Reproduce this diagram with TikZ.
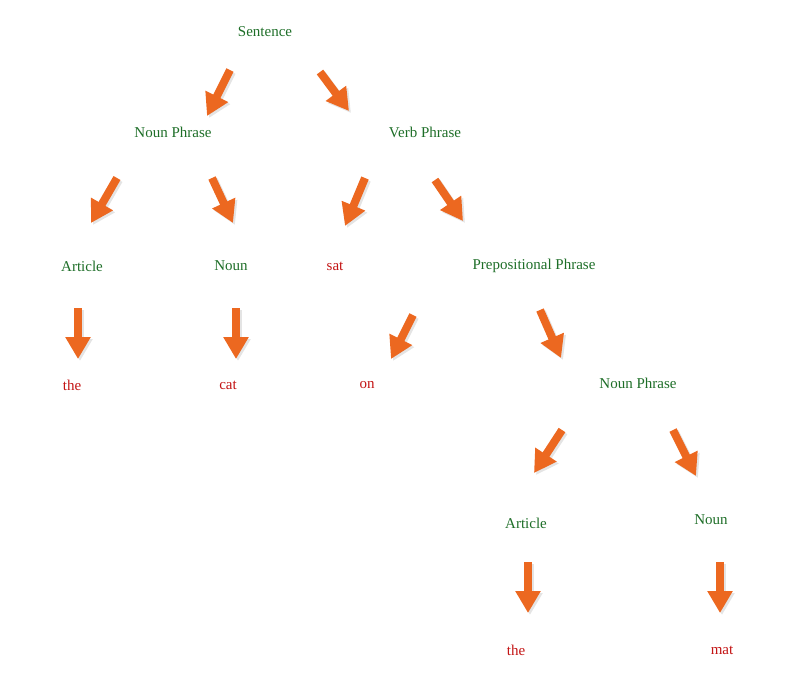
\documentclass[tikz,border=0pt]{standalone}
\usepackage{fontspec}
\setmainfont{Liberation Serif}
\usetikzlibrary{arrows.meta}
\definecolor{tg}{RGB}{30,110,40}
\definecolor{tr}{RGB}{195,20,20}
\definecolor{ao}{RGB}{236,104,32}
\tikzset{
 g/.style={text=tg,font=\fontsize{15}{18}\selectfont},
 r/.style={text=tr,font=\fontsize{15}{18}\selectfont},
 barrow/.style={draw=ao,line width=8pt,-{Triangle[width=24pt,length=22pt]}},
 shad/.style={draw=black!30,opacity=0.35,line width=8pt,-{Triangle[width=24pt,length=22pt]}}
}
\newcommand{\barr}[2]{\draw[shad] ($(#1)+(2,2)$) -- ($(#2)+(2,2)$); \draw[barrow] (#1) -- (#2);}
\usetikzlibrary{calc}
\begin{document}
\begin{tikzpicture}[x=1pt,y=-1pt]
\useasboundingbox (0,0) rectangle (792,673);
\node[g] (s) at (265,32) {Sentence};
\node[g] (np1) at (173,132) {Noun Phrase};
\node[g] (vp) at (425,132) {Verb Phrase};
\node[g] (a1) at (82,266) {Article};
\node[g] (n1) at (231,266) {Noun};
\node[r] (sat) at (335,266) {sat};
\node[g] (pp) at (534,266) {Prepositional Phrase};
\node[r] (the1) at (72,385) {the};
\node[r] (cat) at (228,385) {cat};
\node[r] (on) at (367,385) {on};
\node[g] (np2) at (638,383) {Noun Phrase};
\node[g] (a2) at (526,523) {Article};
\node[g] (n2) at (711,520) {Noun};
\node[r] (the2) at (516,650) {the};
\node[r] (mat) at (722,650) {mat};
\barr{230,70}{207,116}
\barr{320,72}{349,111}
\barr{117,178}{91,223}
\barr{212,178}{233,223}
\barr{365,178}{345,226}
\barr{435,180}{463,221}
\barr{78,308}{78,359}
\barr{236,308}{236,359}
\barr{413,315}{391,359}
\barr{540,310}{561,358}
\barr{562,430}{534,473}
\barr{673,430}{696,476}
\barr{528,562}{528,613}
\barr{720,562}{720,613}
\end{tikzpicture}
\end{document}
